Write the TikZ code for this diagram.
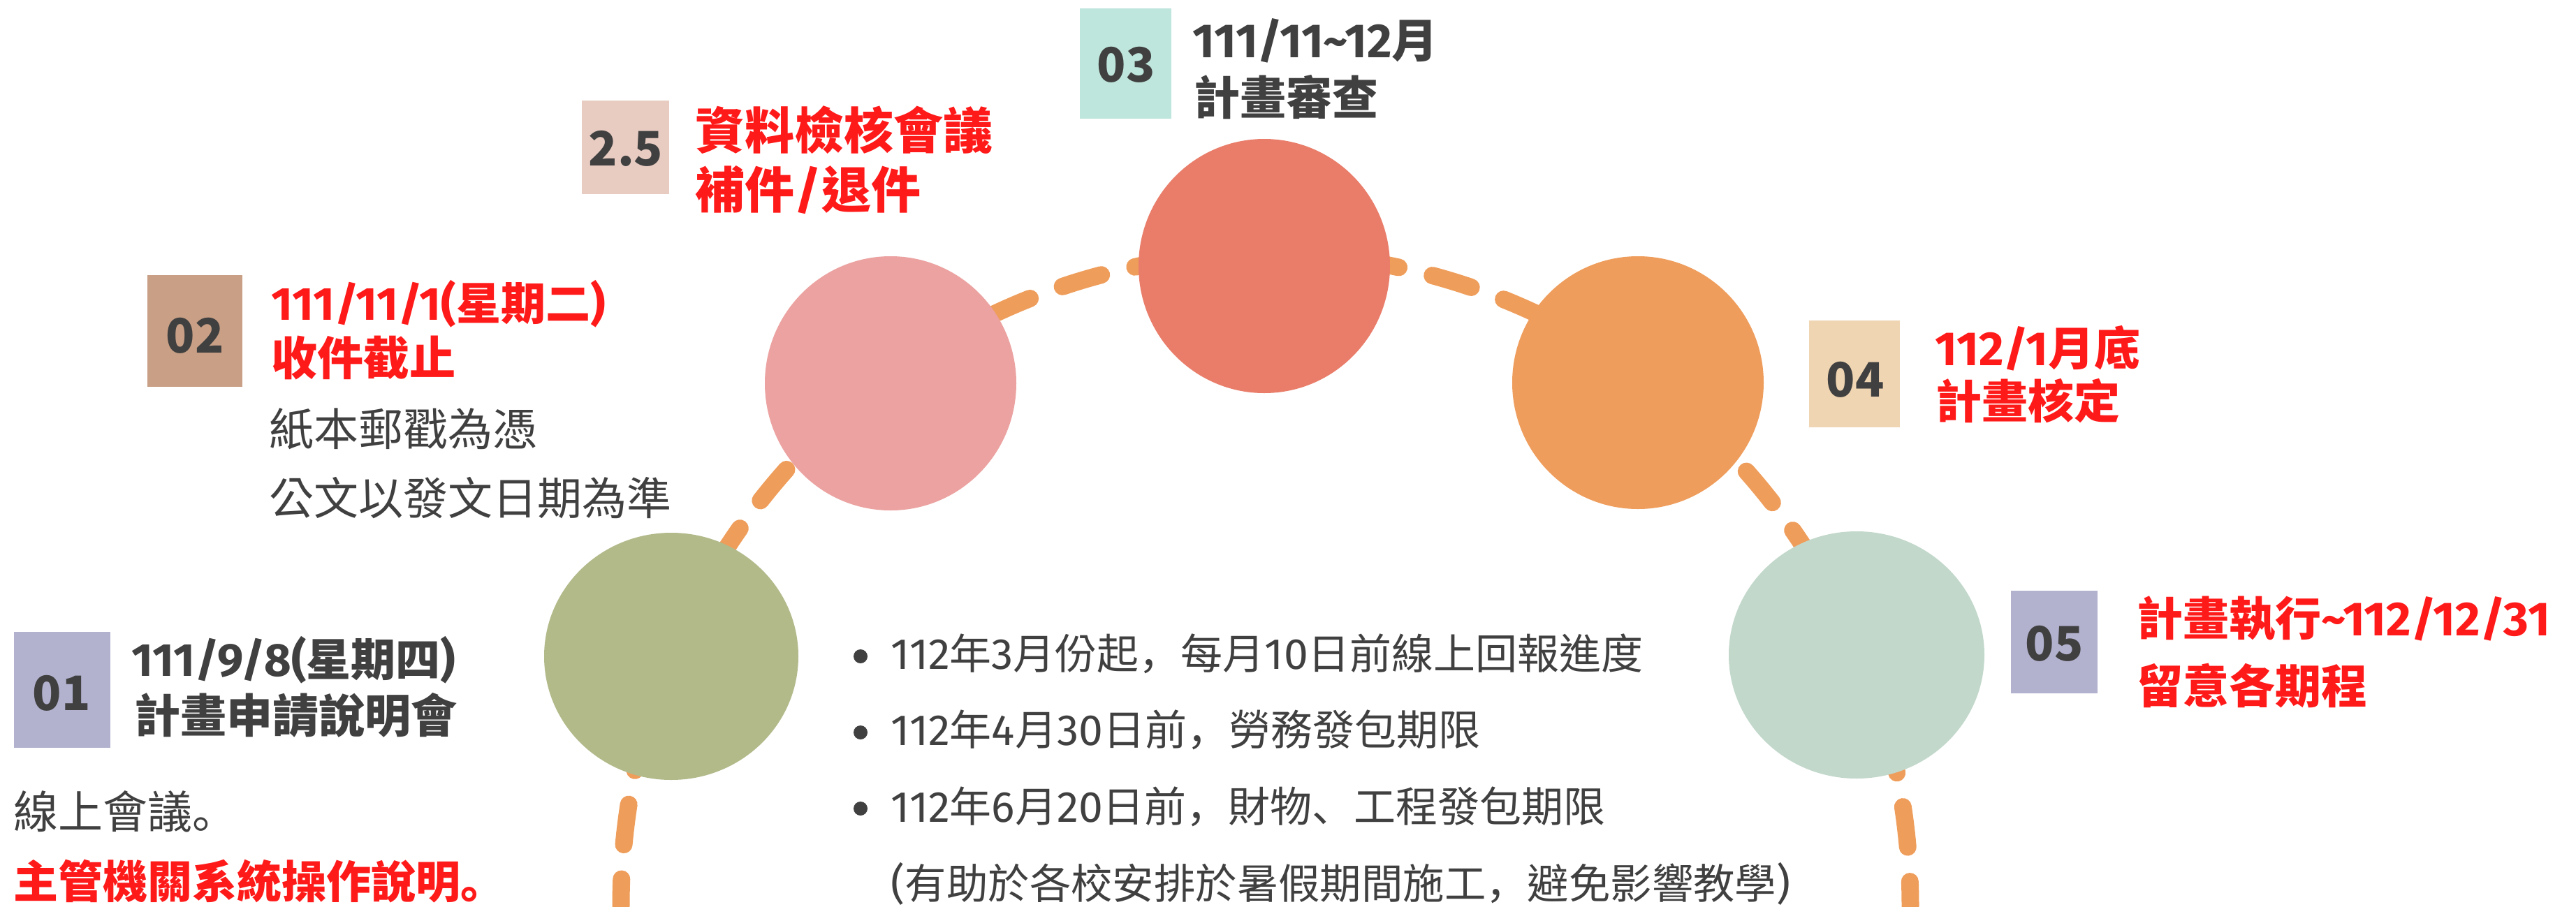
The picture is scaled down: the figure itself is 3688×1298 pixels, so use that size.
\documentclass[tikz,border=0pt]{standalone}
\usepackage{fontspec}
\setmainfont{Noto Sans CJK TC}
\newfontfamily\latf{Fira Sans}[Numbers={Proportional,Lining},Scale=1.04]
\newfontfamily\scf{Noto Sans CJK SC}
\newcommand\ltn[1]{{\latf #1}}
\newcommand\pnc[1]{{\scf #1}}
\usetikzlibrary{shapes.geometric}
\definecolor{cGreen}{HTML}{B2BA8A}
\definecolor{cPink}{HTML}{EBA2A0}
\definecolor{cRed}{HTML}{E97D6A}
\definecolor{cOrange}{HTML}{EF9D5C}
\definecolor{cMint}{HTML}{C2D8CB}
\definecolor{cDash}{HTML}{EF9D5B}
\definecolor{bLav}{HTML}{B2B2CF}
\definecolor{bTan}{HTML}{C9A086}
\definecolor{bRose}{HTML}{E8CCC2}
\definecolor{bAqua}{HTML}{BFE6DC}
\definecolor{bSand}{HTML}{F0D5B2}
\definecolor{tRed}{HTML}{FF1A1A}
\definecolor{tGray}{HTML}{404040}
\tikzset{
  dashline/.style={draw=cDash, line width=6.25pt, line cap=round,
    dash pattern=on 14.5pt off 12.375pt, dash phase=4.75pt},
  blob/.style={ellipse, inner sep=0pt, draw=none},
  numbox/.style={rectangle, inner sep=0pt, draw=none},
  numlbl/.style={inner sep=0pt, text=tGray, font=\fontsize{17pt}{20pt}\selectfont\bfseries},
  head/.style={anchor=base west, inner sep=0pt, font=\fontsize{16.5pt}{20pt}\selectfont\bfseries},
  datehead/.style={anchor=base west, inner sep=0pt, font=\fontsize{16pt}{20pt}\selectfont\bfseries},
  bighead/.style={anchor=base west, inner sep=0pt, font=\fontsize{17.75pt}{21pt}\selectfont\bfseries},
  body/.style={anchor=base west, inner sep=0pt, text=tGray, font=\fontsize{16pt}{20pt}\selectfont},
  blt/.style={anchor=base west, inner sep=0pt, text=tGray, font=\fontsize{15pt}{18pt}\selectfont},
  dot/.style={circle, fill=tGray, inner sep=0pt, minimum size=5pt},
}
\begin{document}
\begin{tikzpicture}[x=0.25pt,y=-0.25pt]
\useasboundingbox (0,0) rectangle (3688,1298);
\fill[white] (0,0) rectangle (3688,1298);

% dashed timeline arc
\coordinate (arcL) at (889,1298);
\draw[dashline] (arcL) arc[start angle=180, end angle=360, x radius=923, y radius=935];

% circles
\node[blob, fill=cGreen, minimum width=91pt, minimum height=88.5pt] (c01) at (961,940) {};
\node[blob, fill=cPink, minimum width=90pt, minimum height=91pt] (c25) at (1275,549) {};
\node[blob, fill=cRed, minimum width=90pt, minimum height=91pt] (c03) at (1810,381) {};
\node[blob, fill=cOrange, minimum width=90pt, minimum height=90.5pt] (c04) at (2345,548) {};
\node[blob, fill=cMint, minimum width=91.5pt, minimum height=88.5pt] (c05) at (2658,938) {};

% number boxes
\node[numbox, fill=bLav, minimum width=34.5pt, minimum height=41.5pt] (b01) at (89,988) {};
\node[numbox, fill=bTan, minimum width=34pt, minimum height=40pt] (b02) at (279,474) {};
\node[numbox, fill=bRose, minimum width=31.25pt, minimum height=33.5pt] (b25) at (895.5,211) {};
\node[numbox, fill=bAqua, minimum width=32.75pt, minimum height=39.5pt] (b03) at (1611.5,91) {};
\node[numbox, fill=bSand, minimum width=32.5pt, minimum height=38.25pt] (b04) at (2655,535.5) {};
\node[numbox, fill=bLav, minimum width=31pt, minimum height=36.75pt] (b05) at (2941,919.5) {};

\node[numlbl] (l01) at (88,993) {01};
\node[numlbl] (l02) at (279,481) {02};
\node[numlbl] (l25) at (896,213) {2.5};
\node[numlbl] (l03) at (1612,93) {03};
\node[numlbl] (l04) at (2656,544) {04};
\node[numlbl] (l05) at (2941,922) {05};

% 01 texts
\node[datehead, text=tGray] (t01a) at (188,968) {\ltn{111/9/8(}星期四\ltn{)}};
\node[head, text=tGray] (t01b) at (192,1049) {計畫申請說明會};
\node[body] (t01c) at (19,1186) {線上會議\pnc{。}};
\node[datehead, text=tRed] (t01d) at (19,1286) {主管機關系統操作說明\pnc{。}};

% 02 texts
\node[datehead, text=tRed] (t02a) at (388,458) {\ltn{111/11/1(}星期二\ltn{)}};
\node[head, text=tRed] (t02b) at (388,537) {收件截止};
\node[body] (t02c) at (385,638) {紙本郵戳為憑};
\node[body] (t02d) at (385,737) {公文以發文日期為準};

% 2.5 texts
\node[bighead, text=tRed] (t25a) at (995,213) {資料檢核會議};
\node[bighead, text=tRed] (t25b) at (995,298) {補件\ltn{/}退件};

% 03 texts
\node[head, text=tGray] (t03a) at (1707,82) {\ltn{111/11\textasciitilde12}月};
\node[head, text=tGray] (t03b) at (1709,164) {計畫審查};

% 04 texts
\node[head, text=tRed] (t04a) at (2770,523) {\ltn{112/1}月底};
\node[head, text=tRed] (t04b) at (2771,599) {計畫核定};

% 05 texts
\node[head, text=tRed] (t05a) at (3059,910) {計畫執行\ltn{\textasciitilde112/12/31}};
\node[head, text=tRed] (t05b) at (3059,1007) {留意各期程};

% bullets
\node[dot] (d1) at (1232,940) {};
\node[dot] (d2) at (1232,1049) {};
\node[dot] (d3) at (1232,1158) {};
\node[blt] (s1) at (1275,958) {\ltn{112}年\ltn{3}月份起\pnc{，}每月\ltn{10}日前線上回報進度};
\node[blt] (s2) at (1275,1067) {\ltn{112}年\ltn{4}月\ltn{30}日前\pnc{，}勞務發包期限};
\node[blt] (s3) at (1275,1177) {\ltn{112}年\ltn{6}月\ltn{20}日前\pnc{，}財物\pnc{、}工程發包期限};
\node[blt, font=\fontsize{14.85pt}{18pt}\selectfont] (s4) at (1275,1287) {\ltn{(}有助於各校安排於暑假期間施工\pnc{，}避免影響教學\ltn{)}};
\end{tikzpicture}
\end{document}
